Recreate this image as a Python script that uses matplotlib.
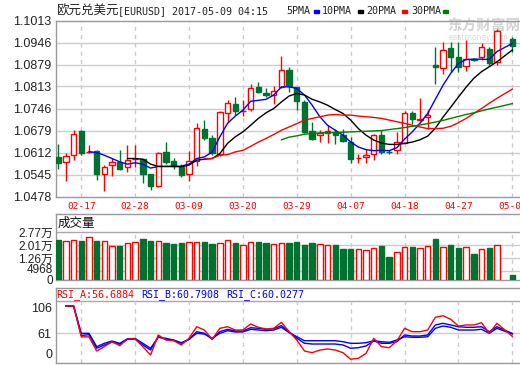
import numpy as np
import matplotlib.pyplot as plt
from matplotlib.patches import Rectangle
from matplotlib.transforms import ScaledTranslation

nan = np.nan
W, H = 520, 365

# ---- data (one bar per trading day, index 58 has no data) ----
date_labels = ['02-17', '02-28', '03-09', '03-20', '03-29', '04-07', '04-18', '04-27', '05-08']
date_pos = [3, 10, 17, 24, 31, 38, 45, 52, 59]

open_ = [1.0599, 1.0585, 1.0606, 1.0677, 1.0614, 1.0617, 1.0548, 1.0573, 1.0584, 1.0567,
         1.0593, 1.0594, 1.0546, 1.0510, 1.0615, 1.0586, 1.0568, 1.0548, 1.0586, 1.0683,
         1.0656, 1.0607, 1.0731, 1.0761, 1.0738, 1.0744, 1.0811, 1.0794, 1.0787, 1.0812,
         1.0863, 1.0810, 1.0766, 1.0677, 1.0665, 1.0672, 1.0675, 1.0665, 1.0644, 1.0595,
         1.0599, 1.0609, 1.0665, 1.0615, 1.0619, 1.0641, 1.0733, 1.0712, 1.0719, 1.0878,
         1.0868, 1.0929, 1.0903, 1.0875, 1.0898, 1.0903, 1.0926, 1.0888, nan, 1.0956]
high = [1.0637, 1.0611, 1.0680, 1.0680, 1.0634, 1.0619, 1.0574, 1.0596, 1.0619, 1.0634,
        1.0634, 1.0594, 1.0548, 1.0614, 1.0643, 1.0595, 1.0577, 1.0616, 1.0702, 1.0711,
        1.0665, 1.0738, 1.0771, 1.0782, 1.0771, 1.0822, 1.0826, 1.0807, 1.0814, 1.0906,
        1.0873, 1.0812, 1.0771, 1.0705, 1.0682, 1.0695, 1.0685, 1.0685, 1.0660, 1.0609,
        1.0624, 1.0670, 1.0680, 1.0619, 1.0675, 1.0739, 1.0740, 1.0778, 1.0741, 1.0934,
        1.0949, 1.0949, 1.0949, 1.0954, 1.0901, 1.0944, 1.0933, 1.0987, nan, 1.0964]
low = [1.0561, 1.0525, 1.0589, 1.0604, 1.0612, 1.0530, 1.0495, 1.0540, 1.0558, 1.0553,
       1.0567, 1.0520, 1.0497, 1.0507, 1.0577, 1.0561, 1.0538, 1.0525, 1.0570, 1.0650,
       1.0604, 1.0601, 1.0705, 1.0726, 1.0722, 1.0739, 1.0792, 1.0780, 1.0761, 1.0807,
       1.0797, 1.0743, 1.0672, 1.0650, 1.0643, 1.0640, 1.0637, 1.0644, 1.0579, 1.0579,
       1.0581, 1.0591, 1.0609, 1.0609, 1.0607, 1.0640, 1.0698, 1.0709, 1.0683, 1.0822,
       1.0850, 1.0858, 1.0858, 1.0860, 1.0890, 1.0893, 1.0878, 1.0878, nan, 1.0918]
close = [1.0579, 1.0603, 1.0670, 1.0611, 1.0615, 1.0548, 1.0567, 1.0584, 1.0562, 1.0591,
         1.0594, 1.0548, 1.0510, 1.0612, 1.0584, 1.0571, 1.0544, 1.0587, 1.0688, 1.0656,
         1.0610, 1.0734, 1.0764, 1.0738, 1.0739, 1.0807, 1.0797, 1.0786, 1.0799, 1.0863,
         1.0814, 1.0769, 1.0675, 1.0653, 1.0672, 1.0677, 1.0665, 1.0648, 1.0592, 1.0596,
         1.0606, 1.0667, 1.0614, 1.0613, 1.0644, 1.0733, 1.0713, 1.0713, 1.0726, 1.0872,
         1.0924, 1.0903, 1.0872, 1.0896, 1.0895, 1.0932, 1.0883, 1.0982, nan, 1.0936]

ma5 = [None] * 4 + [
    1.0615, 1.0612, 1.0604, 1.0594, 1.0584, 1.0577, 1.0581, 1.0577, 1.0565, 1.0570,
    1.0570, 1.0570, 1.0571, 1.0577, 1.0594, 1.0599, 1.0614, 1.0660, 1.0701, 1.0723,
    1.0741, 1.0768, 1.0771, 1.0774, 1.0787, 1.0812, 1.0812, 1.0807, 1.0787, 1.0756,
    1.0721, 1.0695, 1.0680, 1.0665, 1.0644, 1.0629, 1.0621, 1.0618, 1.0619, 1.0618,
    1.0627, 1.0653, 1.0675, 1.0701, 1.0731, 1.0774, 1.0817, 1.0853, 1.0883, 1.0895,
    1.0896, 1.0896, 1.0895, 1.0919, None, 1.0944]
ma10 = [None] * 9 + [
    1.0594, 1.0594, 1.0592, 1.0577, 1.0570, 1.0570, 1.0570, 1.0569, 1.0574, 1.0589,
    1.0592, 1.0594, 1.0609, 1.0640, 1.0660, 1.0675, 1.0695, 1.0716, 1.0733, 1.0746,
    1.0766, 1.0784, 1.0792, 1.0787, 1.0774, 1.0766, 1.0756, 1.0743, 1.0731, 1.0711,
    1.0685, 1.0665, 1.0650, 1.0641, 1.0637, 1.0637, 1.0640, 1.0644, 1.0651, 1.0662,
    1.0686, 1.0720, 1.0750, 1.0781, 1.0811, 1.0838, 1.0858, 1.0873, 1.0888, None, 1.0924]
ma20 = [None] * 19 + [
    1.0594, 1.0594, 1.0604, 1.0606, 1.0614, 1.0619, 1.0631, 1.0644, 1.0655, 1.0667,
    1.0680, 1.0690, 1.0700, 1.0711, 1.0716, 1.0721, 1.0726, 1.0728, 1.0726, 1.0726,
    1.0723, 1.0721, 1.0719, 1.0716, 1.0711, 1.0706, 1.0701, 1.0695, 1.0690, 1.0685,
    1.0685, 1.0686, 1.0692, 1.0703, 1.0716, 1.0731, 1.0746, 1.0762, 1.0777, None, 1.0805]
ma30 = [None] * 29 + [
    1.0651, 1.0659, 1.0663, 1.0668, 1.0670, 1.0672, 1.0673, 1.0673, 1.0674, 1.0675,
    1.0676, 1.0677, 1.0678, 1.0679, 1.0682, 1.0685, 1.0688, 1.0692, 1.0696, 1.0700,
    1.0705, 1.0710, 1.0716, 1.0722, 1.0728, 1.0733, 1.0739, 1.0745, 1.0750, None, 1.0761]

volume = [23230, 22470, 23050, 22650, 24800, 22650, 22470, 19740, 19740, 21310,
          21890, 23810, 22650, 22470, 21490, 20910, 21490, 21890, 21890, 21890,
          20910, 21310, 23050, 21490, 20330, 21890, 21890, 21490, 20910, 21490,
          21490, 22070, 20330, 21490, 20910, 20330, 20330, 18000, 18000, 17830,
          17420, 18410, 19740, 13360, 16260, 18990, 19160, 18410, 19740, 23810,
          18990, 20330, 18580, 18990, 15270, 18000, 18580, 20330, nan, 2900]

rsi_a = [None, 100, 100, 56, 56, 35.7, 42, 49, 43.3, 52.9, 52.9, 41.9, 30, 58.6, 51.4,
         50.4, 44.3, 53.9, 70.4, 65.7, 52.4, 68.1, 70.4, 65.7, 65.7, 74.3, 69.6, 67.1,
         68.1, 76.7, 63.3, 51.4, 35.7, 33.3, 37.1, 38.6, 37.1, 33.3, 23.9, 25.3, 32.4,
         53.9, 41.9, 40.4, 50, 68.1, 63.3, 63.3, 65.7, 83.9, 86.1, 81, 71.4, 72.9, 72.9,
         76.1, 61, 75.3, None, 56.69]
rsi_b = [None, 100, 100, 58, 59, 39.6, 44.3, 48.6, 45.3, 52.4, 52.7, 44.3, 37.1, 56.1,
         52.4, 51, 46.7, 52.4, 63.3, 61, 52.4, 63.3, 66.7, 64.3, 64.3, 69, 68.1, 66.7,
         67.6, 71.9, 63.3, 53.9, 46.7, 45.7, 45.7, 45.7, 45.7, 44.3, 39.6, 40.4, 42.9,
         50, 46.7, 46.7, 49, 58.6, 57.1, 57.1, 58.6, 72.9, 75.3, 72.9, 70.4, 69.6, 69.6,
         70.4, 63.3, 70.4, None, 60.79]
rsi_c = [None, 100, 100, 61, 61, 41.9, 46.7, 50, 46.7, 53.3, 53.5, 46.7, 39.6, 55.3,
         53.9, 51.4, 47.6, 52.4, 61, 60, 53.9, 61, 64.7, 62.9, 62.9, 66.7, 65.7, 64.7,
         65.7, 69.6, 61.9, 56.1, 50.4, 50.4, 50.4, 50.4, 50.4, 49, 46.7, 46.7, 47.6,
         50.4, 49, 48.1, 51.4, 56.1, 55.3, 55.3, 56.1, 68.1, 71.4, 69.6, 65.7, 65.7, 65.7,
         66.7, 61, 68.1, None, 60.03]

price_ticks = ['1.1013', '1.0946', '1.0879', '1.0813', '1.0746', '1.0679', '1.0612', '1.0545', '1.0478']
vol_ticks = [27700, 20100, 12600, 4968, 0]
vol_tick_labels = ['2.77万', '2.01万', '1.26万', '4968', '0']
rsi_tick_labels = ['106', '61', '0']
rsi_legend = ['RSI_A:56.6884', 'RSI_B:60.7908', 'RSI_C:60.0277']
ma_names = ['5PMA', '10PMA', '20PMA', '30PMA']

# ---- styling ----
RED = '#ff0000'
GREEN = '#00722f'
BORDER = '#999999'
GRID = '#cccccc'
MONO = 'DejaVu Sans Mono'
CJK = 'Noto Sans CJK SC'
TICKFONT = ['Liberation Sans', CJK]
ma_colors = ['#0000ff', '#000000', '#ff0000', '#008000']


def arr(v):
    return np.array([nan if x is None else x for x in v], dtype=float)


o, hi, lo, c = arr(open_), arr(high), arr(low), arr(close)
idx = np.arange(len(c))
ok = ~np.isnan(c)
up = c >= o

fig = plt.figure(figsize=(W / 100, H / 100), dpi=100)
fig.patch.set_facecolor('white')


def box(top, bottom, left=55.5):
    return [left / W, 1 - bottom / H, (W - left) / W, (bottom - top) / H]


def ftext(x, y, s, **kw):
    fig.text(x / W, 1 - y / H, s, va='center', ha='left', **kw)


XLIM = (-0.351, 60.0)


def style_axes(a):
    a.set_facecolor('none')
    a.set_xlim(*XLIM)
    for side in ('left', 'top', 'bottom'):
        a.spines[side].set_color(BORDER)
        a.spines[side].set_linewidth(1)
    a.spines['right'].set_visible(False)
    a.tick_params(length=0, pad=3, labelsize=9, colors='#222222')


# ---- main price panel ----
ax = fig.add_axes(box(20.7, 196.7))
style_axes(ax)
pt = [float(t) for t in price_ticks]
ax.set_ylim(pt[-1], pt[0])
ax.set_yticks(pt, price_ticks, family=TICKFONT, fontsize=9, color='#222222')
for v in pt[1:-1]:
    ax.axhline(v, color=GRID, lw=1, zorder=0)
for p in date_pos:
    ax.axvline(p, color=GRID, lw=1, ls=(0, (3, 3)), zorder=0)
ax.set_xticks(date_pos, date_labels, family=MONO, fontsize=6.8, color=RED)
ax.tick_params(axis='x', pad=4, colors=RED)

body_lo = np.minimum(o, c)
body_hi = np.maximum(o, c)
cols = np.where(up, RED, GREEN)
ax.vlines(idx[ok], lo[ok], body_lo[ok], colors=cols[ok], lw=1, zorder=2)
ax.vlines(idx[ok], body_hi[ok], hi[ok], colors=cols[ok], lw=1, zorder=2)
ax.bar(idx[ok], (body_hi - body_lo)[ok], bottom=body_lo[ok], width=0.7,
       facecolor=np.where(up, 'white', GREEN)[ok], edgecolor=cols[ok],
       linewidth=1, zorder=3)

for series, col in zip([ma5, ma10, ma20, ma30], ma_colors):
    s = arr(series)
    m = ~np.isnan(s)
    ax.plot(idx[m], s[m], color=col, lw=1, zorder=4)

# ---- volume panel ----
axv = fig.add_axes(box(214, 280))
style_axes(axv)
axv.set_ylim(0, 38330)
axv.set_xticks([])
axv.set_yticks(vol_ticks, vol_tick_labels, family=TICKFONT, fontsize=8.5, color='#222222')
axv.tick_params(axis='y', pad=2)
# the small-volume label sits a little higher than its gridline in the original
lab = axv.get_yticklabels()[3]
lab.set_transform(lab.get_transform() + ScaledTranslation(0, 2.5 / 100, fig.dpi_scale_trans))
axv.axhline(vol_ticks[0], color='#a8a8a8', lw=1, zorder=0)
for v in vol_ticks[1:-1]:
    axv.axhline(v, color=GRID, lw=1, zorder=0)
axv.vlines(date_pos, 0, vol_ticks[0], color=GRID, lw=1, ls=(0, (3, 3)), zorder=0)
vol = np.array(volume, dtype=float)
axv.bar(idx[ok], vol[ok], width=0.7, facecolor=np.where(up, 'white', GREEN)[ok],
        edgecolor=cols[ok], linewidth=1, zorder=3)
axv.text(0.004, 1 - 9 / 66, '成交量', transform=axv.transAxes, family=CJK,
         fontsize=9, va='center', ha='left', color='#111111')

# ---- RSI panel ----
axr = fig.add_axes(box(288.3, 363))
style_axes(axr)
axr.set_ylim(18.57, 125.3)
axr.set_xticks([])
axr.set_yticks([61], [rsi_tick_labels[1]], family=TICKFONT, fontsize=9, color='#222222')
axr.axhline(107.57, color='#a8a8a8', lw=1, zorder=0)
axr.axhline(61, color=GRID, lw=1, zorder=0)
axr.vlines(date_pos, 18.57, 107.57, color=GRID, lw=1, ls=(0, (3, 3)), zorder=0)
axr.text(-3 / 464.5, (363 - 309.3) / 74.7, rsi_tick_labels[0], transform=axr.transAxes,
         family=TICKFONT, fontsize=9, color='#222222', ha='right', va='center')
axr.text(-3 / 464.5, (363 - 355.3) / 74.7, rsi_tick_labels[2], transform=axr.transAxes,
         family=TICKFONT, fontsize=9, color='#222222', ha='right', va='center')
for series, col in zip([rsi_c, rsi_b, rsi_a], ['#0000ff', '#0000ff', RED]):
    s = arr(series)
    m = ~np.isnan(s)
    axr.plot(idx[m], s[m], color=col, lw=1, zorder=3)
for x0, s, col in zip([56.7, 141.7, 226.7], rsi_legend, [RED, '#0000ff', '#0000ff']):
    ftext(x0, 294.5, s, family=MONO, fontsize=7.2, color=col)

# ---- header ----
ftext(56.5, 11, '欧元兑美元', family=CJK, fontsize=9, color='#222222')
ftext(117.5, 11.5, '[EURUSD] 2017-05-09 04:15', family=MONO, fontsize=7.2, color='#222222')
for x0, s, col, mx in zip([286.7, 321.7, 366.7, 411.7], ma_names, ma_colors,
                          [314.3, 358.3, 402.3, 443.3]):
    ftext(x0, 11.5, s, family=MONO, fontsize=7.2, color='#222222')
    fig.patches.append(Rectangle((mx / W, 1 - 13 / H), 5 / W, 3 / H,
                                 transform=fig.transFigure, color=col))

# watermark
fig.text(447 / W, 1 - 26 / H, '东方财富网', family=CJK, fontsize=10.5, weight='bold',
         color='#d4d4d4', va='center', ha='left', zorder=-1)
fig.text(449 / W, 1 - 37 / H, 'eastmoney.com', family='DejaVu Sans', fontsize=5.5,
         color='#dcdcdc', va='center', ha='left', zorder=-1)

fig.savefig('out.png', dpi=100, facecolor='white')
